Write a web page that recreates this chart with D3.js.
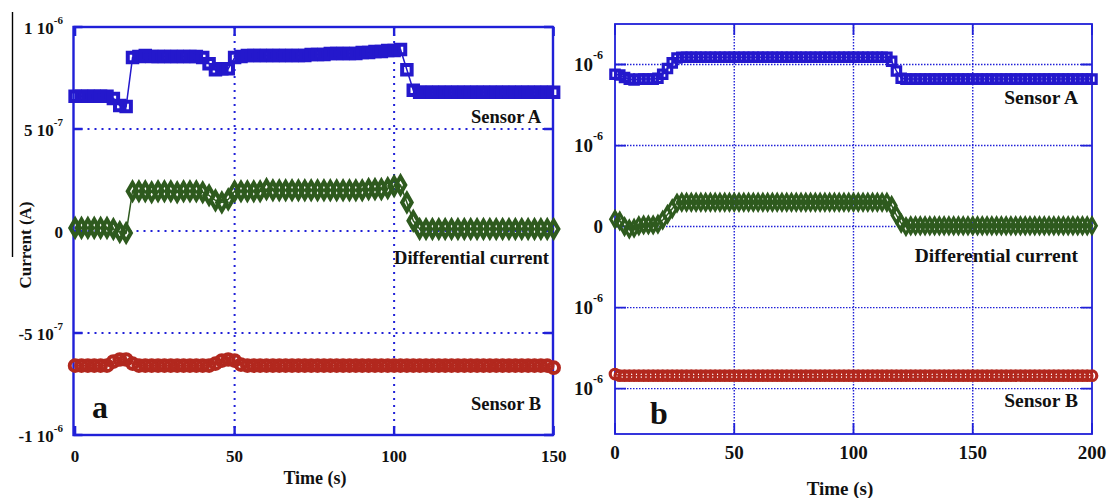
<!DOCTYPE html>
<html>
<head>
<meta charset="utf-8">
<script src="https://cdn.jsdelivr.net/npm/d3@7"></script>
<style>
body{margin:0;background:#fff;}
svg text{font-family:"Liberation Serif","Times New Roman",serif;fill:#111;}
</style>
</head>
<body>
<svg id="chart" width="1108" height="498" font-family="Liberation Serif, serif"></svg>
<script>
// all currents in units of 1e-7 A

// panel a : time 0..150 s, one reading every 2 s
var time_a = d3.range(0, 151, 2);
var sensorA_a = [6.6,6.6,6.6,6.6,6.6,6.6,
	6.5,6.15,6.1,
	8.5,8.55,8.6,8.55,8.55,8.55,8.55,8.55,8.55,8.55,8.55,8.5,
	8.2,7.9,7.95,7.95,
	8.5,8.55,8.6,8.6,8.6,8.6,8.6,8.6,8.6,8.6,8.6,8.6,8.65,8.65,8.65,8.7,8.7,8.7,8.7,8.7,8.75,8.75,8.8,8.8,8.85,
	8.85,8.9,7.9,6.9,6.8,
	6.8,6.8,6.8,6.8,6.8,6.8,6.8,6.8,6.8,6.8,6.8,6.8,6.8,6.8,6.8,6.8,6.8,6.8,6.8,6.8,6.8];
var diff_a = [0.15,0.15,0.15,0.15,0.15,0.15,
	0.1,-0.05,-0.1,
	1.95,1.95,1.95,1.9,1.95,1.95,1.95,1.9,1.95,1.95,1.95,1.9,
	1.75,1.5,1.4,1.55,
	1.95,1.95,1.95,1.95,1.95,2.05,2.0,2.0,2.0,2.0,2.0,2.0,2.0,2.0,2.0,2.0,2.0,2.0,2.0,2.0,2.0,2.05,2.05,2.05,2.1,
	2.2,2.25,1.4,0.5,0.1,
	0.1,0.1,0.1,0.1,0.1,0.1,0.1,0.1,0.1,0.1,0.1,0.1,0.1,0.1,0.1,0.1,0.1,0.1,0.1,0.1,0.1];
var sensorB_a = [-6.6,-6.6,-6.6,-6.6,-6.6,-6.6,
	-6.4,-6.3,-6.3,
	-6.5,-6.6,-6.6,-6.6,-6.6,-6.6,-6.6,-6.6,-6.6,-6.6,-6.6,-6.6,
	-6.6,-6.5,-6.35,-6.3,
	-6.35,-6.55,-6.6,-6.6,-6.6,-6.6,-6.6,-6.6,-6.6,-6.6,-6.6,-6.6,-6.6,-6.6,-6.6,-6.6,-6.6,-6.6,-6.6,-6.6,-6.6,-6.6,-6.6,-6.6,-6.6,
	-6.6,-6.6,-6.6,-6.6,-6.6,
	-6.6,-6.6,-6.6,-6.6,-6.6,-6.6,-6.6,-6.6,-6.6,-6.6,-6.6,-6.6,-6.6,-6.6,-6.6,-6.6,-6.6,-6.6,-6.6,-6.6,-6.7];

// panel b : time 0..200 s, one reading every 2 s
var time_b = d3.range(0, 201, 2);
var sensorA_b = [9.4,9.35,9.2,9.1,9.05,9.1,9.1,9.1,9.1,9.15,9.4,9.75,10.1,10.4,10.45,
	10.45,10.45,10.45,10.45,10.45,10.45,10.45,10.45,10.45,10.45,
	10.45,10.45,10.45,10.45,10.45,10.45,10.45,10.45,10.45,10.45,
	10.45,10.45,10.45,10.45,10.45,10.45,10.45,10.45,10.45,10.45,
	10.45,10.45,10.45,10.45,10.45,10.45,10.45,10.45,10.45,10.45,
	10.45,10.45,10.45,
	10.2,9.6,9.15,
	9.1,9.1,9.1,9.1,9.1,9.1,9.1,9.1,9.1,9.1,
	9.1,9.1,9.1,9.1,9.1,9.1,9.1,9.1,9.1,9.1,
	9.1,9.1,9.1,9.1,9.1,9.1,9.1,9.1,9.1,9.1,
	9.1,9.1,9.1,9.1,9.1,9.1,9.1,9.1,9.1,9.1];
var diff_b = [0.45,0.35,0.0,-0.15,-0.1,0.05,0.1,0.1,0.1,0.15,0.4,0.75,1.1,1.45,1.5,
	1.5,1.5,1.5,1.5,1.5,1.5,1.5,1.5,1.5,1.5,
	1.5,1.5,1.5,1.5,1.5,1.5,1.5,1.5,1.5,1.5,
	1.5,1.5,1.5,1.5,1.5,1.5,1.5,1.5,1.5,1.5,
	1.5,1.5,1.5,1.5,1.5,1.5,1.5,1.5,1.5,1.5,
	1.5,1.5,1.5,
	1.3,0.7,0.2,
	0.0,0.05,0.05,0.05,0.05,0.05,0.05,0.05,0.05,0.05,
	0.05,0.05,0.05,0.05,0.05,0.05,0.05,0.05,0.05,0.05,
	0.05,0.05,0.05,0.05,0.05,0.05,0.05,0.05,0.05,0.05,
	0.05,0.05,0.05,0.05,0.05,0.05,0.05,0.05,0.05,0.05];
var sensorB_b = [-9.1,
	-9.2,-9.2,-9.2,-9.2,-9.2,-9.2,-9.2,-9.2,-9.2,-9.2,
	-9.2,-9.2,-9.2,-9.2,-9.2,-9.2,-9.2,-9.2,-9.2,-9.2,
	-9.2,-9.2,-9.2,-9.2,-9.2,-9.2,-9.2,-9.2,-9.2,-9.2,
	-9.2,-9.2,-9.2,-9.2,-9.2,-9.2,-9.2,-9.2,-9.2,-9.2,
	-9.2,-9.2,-9.2,-9.2,-9.2,-9.2,-9.2,-9.2,-9.2,-9.2,
	-9.2,-9.2,-9.2,-9.2,-9.2,-9.2,-9.2,-9.2,-9.2,-9.2,
	-9.2,-9.2,-9.2,-9.2,-9.2,-9.2,-9.2,-9.2,-9.2,-9.2,
	-9.2,-9.2,-9.2,-9.2,-9.2,-9.2,-9.2,-9.2,-9.2,-9.2,
	-9.2,-9.2,-9.2,-9.2,-9.2,-9.2,-9.2,-9.2,-9.2,-9.2,
	-9.2,-9.2,-9.2,-9.2,-9.2,-9.2,-9.2,-9.2,-9.2,-9.2];

// ticks
var yTicks = [10, 5, 0, -5, -10];
var yLabels_a = [["1 10","-6"],["5 10","-7"],["0",""],["-5 10","-7"],["-1 10","-6"]];
var yLabels_b = [["10","-6"],["10","-6"],["0",""],["10","-6"],["10","-6"]];
var xTicks_a = [0, 50, 100, 150];
var xTicks_b = [0, 50, 100, 150, 200];
var seriesNames = ["Sensor A", "Differential current", "Sensor B"];

var blue = "#2418cc", green = "#2e5a1e", red = "#b2281e", frameBlue = "#2020d8";
var serif = "Liberation Serif, Times New Roman, serif";

var svg = d3.select("#chart");

// stray black rule left of panel a
svg.append("line").attr("x1",12.5).attr("x2",12.5).attr("y1",12).attr("y2",257)
	.attr("stroke","#000").attr("stroke-width",1.4);

function drawPanel(p){
	var x = d3.scaleLinear().domain(p.xDomain).range(p.xRange);
	var y = d3.scaleLinear().domain(p.yDomain).range(p.yRange);
	var g = svg.append("g").attr("font-family", serif);
	var x0 = p.xRange[0], x1 = p.xRange[1], y0 = p.yRange[1], y1 = p.yRange[0];

	// dotted grid
	g.selectAll(".gx").data(p.gridX).enter().append("line")
		.attr("x1", function(d){ return x(d); }).attr("x2", function(d){ return x(d); })
		.attr("y1", y0).attr("y2", y1)
		.attr("stroke", frameBlue).attr("stroke-width", p.gridW).attr("stroke-dasharray", p.dash);
	g.selectAll(".gy").data(p.gridY).enter().append("line")
		.attr("y1", function(d){ return y(d); }).attr("y2", function(d){ return y(d); })
		.attr("x1", x0).attr("x2", x1)
		.attr("stroke", frameBlue).attr("stroke-width", p.gridW).attr("stroke-dasharray", p.dash);

	// inner tick marks
	g.selectAll(".ty").data(yTicks).enter().append("path")
		.attr("d", function(d){ return "M"+x0+","+y(d)+"h"+p.tick+"M"+x1+","+y(d)+"h"+(-p.tick); })
		.attr("stroke", frameBlue).attr("stroke-width", p.frameW);
	g.selectAll(".tx").data(p.xTicks).enter().append("path")
		.attr("d", function(d){ return "M"+x(d)+","+y1+"v"+(-p.tick)+"M"+x(d)+","+y0+"v"+p.tick; })
		.attr("stroke", frameBlue).attr("stroke-width", p.frameW);

	// frame
	g.append("rect").attr("x", x0).attr("y", y0).attr("width", x1-x0).attr("height", y1-y0)
		.attr("fill","none").attr("stroke", frameBlue).attr("stroke-width", p.frameW);

	// series
	p.series.forEach(function(s){
		var pts = p.time.map(function(t, i){ return [t, s.values[i]]; });
		var line = d3.line().x(function(d){ return x(d[0]); }).y(function(d){ return y(d[1]); });
		g.append("path").attr("d", line(pts)).attr("fill","none")
			.attr("stroke", s.color).attr("stroke-width", 1.5);
		g.selectAll(null).data(pts).enter().append("path")
			.attr("transform", function(d){ return "translate("+x(d[0])+","+y(d[1])+")"; })
			.attr("d", d3.symbol().type(s.symbol).size(s.size))
			.attr("fill","none").attr("stroke", s.color).attr("stroke-width", p.markW);
	});

	// y tick labels with exponents
	g.selectAll(".yl").data(yTicks).enter().append("text")
		.attr("x", p.yLabelX).attr("y", function(d){ return y(d) + p.yLabelDy; })
		.attr("text-anchor","end").attr("font-size", p.yFont).attr("font-family", serif).attr("font-weight","bold")
		.each(function(d, i){
			var t = d3.select(this), lab = p.yLabels[i];
			t.append("tspan").text(lab[0]);
			if (lab[1]) t.append("tspan").attr("dy", p.supDy).attr("font-size", p.supFont).text(lab[1]);
		});

	// x tick labels
	g.selectAll(".xl").data(p.xTicks).enter().append("text")
		.attr("x", function(d){ return x(d); }).attr("y", p.xLabelY).attr("font-family", serif).attr("font-weight","bold")
		.attr("text-anchor","middle").attr("font-size", p.xFont).text(function(d){ return d; });

	g.append("text").attr("x", p.titleX).attr("y", p.titleY).attr("text-anchor","middle")
		.attr("font-family", serif).attr("font-size", p.titleFont).attr("font-weight","bold").text("Time (s)");

	// series names
	p.names.forEach(function(n, i){
		g.append("text").attr("x", n[0]).attr("y", n[1]).attr("text-anchor","end").attr("font-family", serif)
			.attr("font-size", p.nameFont).attr("font-weight","bold").text(seriesNames[i]);
	});

	g.append("text").attr("x", p.letter[0]).attr("y", p.letter[1]).attr("font-family", serif)
		.attr("font-size", 32).attr("font-weight","bold").text(p.letter[2]);
}

drawPanel({
	time: time_a,
	xDomain: [-0.5, 149.8], xRange: [73.5, 553],
	yDomain: [-10, 10], yRange: [435, 27],
	gridX: [50, 100], gridY: [5, 0, -5], xTicks: xTicks_a,
	gridW: 2, dash: "2,5", frameW: 2.4, tick: 9, markW: 4,
	series: [
		{values: sensorA_a, color: blue, symbol: d3.symbolSquare, size: 90},
		{values: diff_a, color: green, symbol: d3.symbolDiamond, size: 80},
		{values: sensorB_a, color: red, symbol: d3.symbolCircle, size: 90}
	],
	yLabels: yLabels_a, yLabelX: 63, yLabelDy: 7, yFont: 17, supDy: -10, supFont: 11,
	xLabelY: 462, xFont: 17,
	titleX: 315, titleY: 484, titleFont: 18,
	names: [[541, 123], [549, 264], [541, 410]], nameFont: 18.5,
	letter: [92, 418, "a"]
});

drawPanel({
	time: time_b,
	xDomain: [0, 200], xRange: [615, 1092],
	yDomain: [-12.8, 12.5], yRange: [434, 24],
	gridX: [50, 100, 150], gridY: [10, 5, 0, -5, -10], xTicks: xTicks_b,
	gridW: 1.4, dash: "1.5,1.5", frameW: 1.8, tick: 11, markW: 3.2,
	series: [
		{values: sensorA_b, color: blue, symbol: d3.symbolSquare, size: 70},
		{values: diff_b, color: green, symbol: d3.symbolDiamond, size: 64},
		{values: sensorB_b, color: red, symbol: d3.symbolCircle, size: 72}
	],
	yLabels: yLabels_b, yLabelX: 603, yLabelDy: 6, yFont: 19, supDy: -12, supFont: 12,
	xLabelY: 459, xFont: 19,
	titleX: 840, titleY: 495, titleFont: 19,
	names: [[1078, 104], [1078, 262], [1078, 407]], nameFont: 19.5,
	letter: [650, 424, "b"]
});

// y axis title of panel a
svg.append("text").attr("transform","translate(31,245) rotate(-90)").attr("font-family", serif)
	.attr("text-anchor","middle").attr("font-size",17).attr("font-weight","bold").text("Current (A)");
</script>
</body>
</html>
